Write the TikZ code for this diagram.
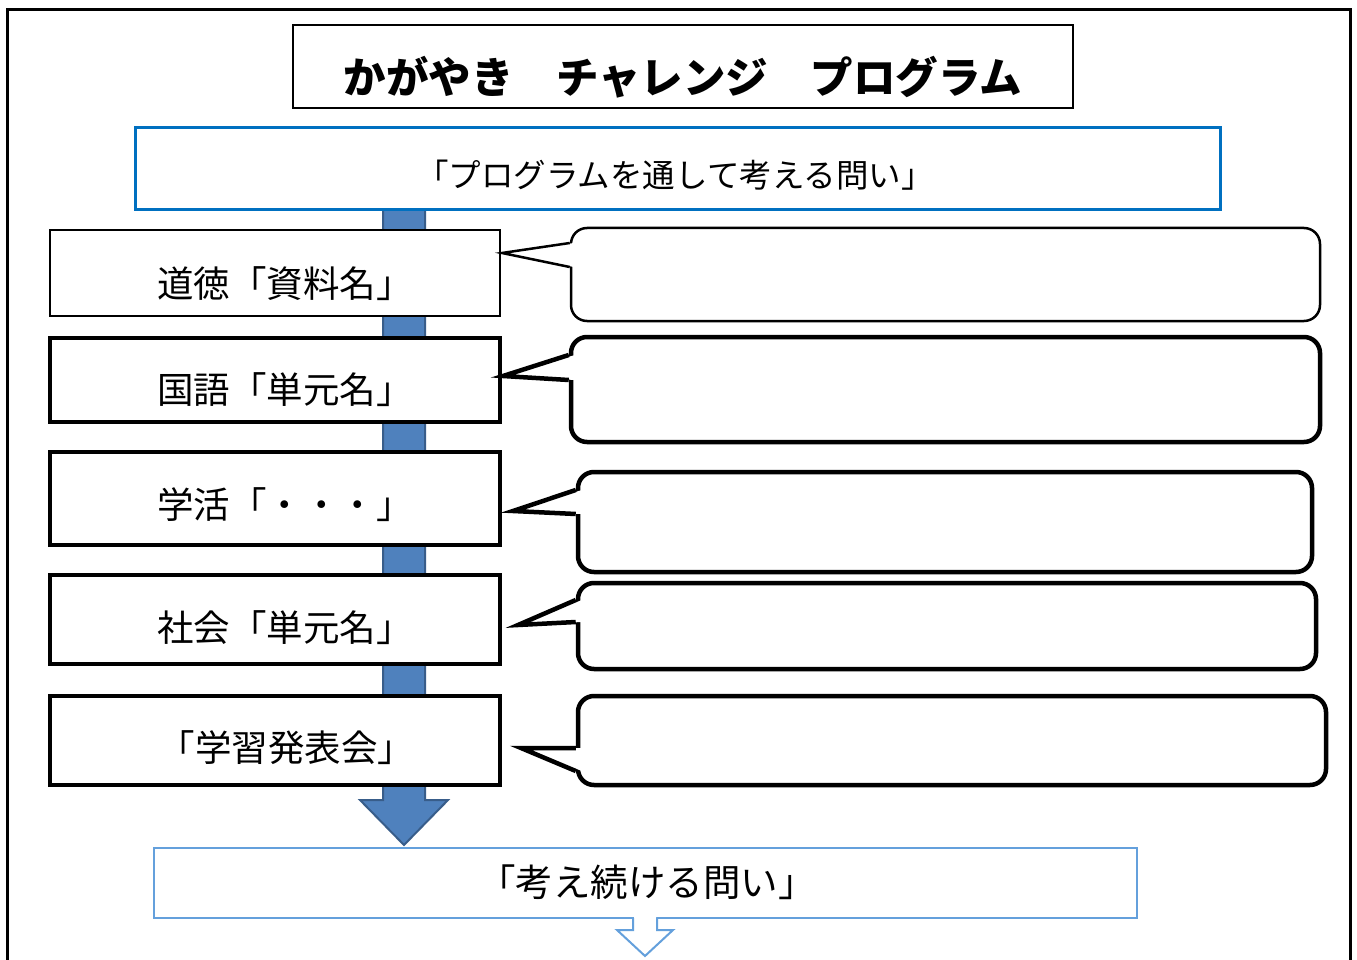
\documentclass[tikz,border=0pt]{standalone}
\usepackage{fontspec}
\newfontfamily\jp{Noto Sans CJK JP}
\definecolor{topblue}{RGB}{0,112,192}
\definecolor{arrfill}{RGB}{79,129,189}
\definecolor{arrdraw}{RGB}{56,93,138}
\definecolor{lightblue}{RGB}{100,160,220}
\begin{document}
\begin{tikzpicture}[x=1pt,y=-1pt,
  lbox/.style={draw=black, fill=white, inner sep=0pt, line join=miter},
  callbox/.style={draw=black, fill=white, rounded corners=16pt, inner sep=0pt},
  jtext/.style={font=\jp\fontsize{36.5}{42}\selectfont, inner sep=0pt},
  tail/.style={draw=black, line join=miter}
]
\useasboundingbox (0,0) rectangle (1357,960);
\fill[white] (0,0) rectangle (1357,960);
% outer frame
\draw[line width=3pt] (7,962) -- (7,10) -- (1350,10) -- (1350,962);

% title
\node[draw=black, line width=2pt, minimum width=780pt, minimum height=83pt, inner sep=0pt] (title) at (683,66.5) {};
\node[font=\jp\bfseries\fontsize{42.5}{48}\selectfont, inner sep=0pt] (titletext) at (683,77) {かがやき　チャレンジ　プログラム};

% big blue arrow (behind boxes)
\draw[fill=arrfill, draw=arrdraw, line width=2pt, line join=miter]
  (383,205) -- (425,205) -- (425,800) -- (448,800) -- (404,845) -- (360,800) -- (383,800) -- cycle;

% top question box
\node[draw=topblue, fill=white, line width=3pt, minimum width=1085pt, minimum height=82pt, inner sep=0pt] (tq) at (677.5,169) {};
\node[font=\jp\fontsize{32.5}{38}\selectfont, inner sep=0pt] (tqtext) at (675,175) {「プログラムを通して考える問い」};

% left boxes
\node[lbox, line width=2pt, minimum width=450pt, minimum height=86pt] (b1) at (275,273) {};
\node[lbox, line width=4.5pt, minimum width=450pt, minimum height=84pt] (b2) at (275,380) {};
\node[lbox, line width=4.5pt, minimum width=450pt, minimum height=93pt] (b3) at (275,498.5) {};
\node[lbox, line width=4.5pt, minimum width=450pt, minimum height=89pt] (b4) at (275,619.5) {};
\node[lbox, line width=4.5pt, minimum width=450pt, minimum height=89pt] (b5) at (275,740.5) {};
\node[jtext] (t1) at (285,283.5) {道徳「資料名」};
\node[jtext] (t2) at (285,390) {国語「単元名」};
\node[jtext] (t3) at (285,505) {学活「・・・」};
\node[jtext] (t4) at (285,628) {社会「単元名」};
\node[jtext] (t5) at (286.5,748) {「学習発表会」};

% callouts
\node[callbox, line width=2.5pt, minimum width=749pt, minimum height=93pt] (c1) at (945.5,274.5) {};
\node[callbox, line width=4.5pt, minimum width=749pt, minimum height=105pt] (c2) at (945.5,389.5) {};
\node[callbox, line width=4.5pt, minimum width=734pt, minimum height=100pt] (c3) at (945,522) {};
\node[callbox, line width=4.5pt, minimum width=738pt, minimum height=86pt] (c4) at (947,626) {};
\node[callbox, line width=4.5pt, minimum width=748pt, minimum height=89pt] (c5) at (952,740.5) {};

\coordinate (p1) at (502,253);
\coordinate (p2) at (503,376);
\coordinate (p3) at (513,511);
\coordinate (p4) at (518,625);
\coordinate (p5) at (521,748);

\fill[white] (574,243) -- (p1) -- (574,267) -- cycle;
\draw[tail, line width=2.5pt] (c1.west |- 0,243) -- (p1) -- (c1.west |- 0,267);
\fill[white] (575,355) -- (p2) -- (575,380) -- cycle;
\draw[tail, line width=4.5pt] (c2.west |- 0,355) -- (p2) -- (c2.west |- 0,380);
\fill[white] (582,490) -- (p3) -- (582,514) -- cycle;
\draw[tail, line width=4.5pt] (c3.west |- 0,490) -- (p3) -- (c3.west |- 0,514);
\fill[white] (582,600) -- (p4) -- (582,622) -- cycle;
\draw[tail, line width=4.5pt] (c4.west |- 0,600) -- (p4) -- (c4.west |- 0,622);
\fill[white] (582,748) -- (p5) -- (582,771) -- cycle;
\draw[tail, line width=4.5pt] (c5.west |- 0,748) -- (p5) -- (c5.west |- 0,771);

% bottom box
\node[draw=lightblue, fill=white, line width=2pt, minimum width=983pt, minimum height=70pt, inner sep=0pt] (bq) at (645.5,883) {};
\node[font=\jp\fontsize{37.5}{44}\selectfont, inner sep=0pt] (bqtext) at (647,882) {「考え続ける問い」};

% hollow arrow below
\coordinate (ha) at (645,956);
\fill[white] (634,915) -- (634,930) -- (619,930) -- (ha) -- (671,930) -- (656,930) -- (656,915) -- cycle;
\draw[draw=lightblue, line width=2pt, line join=miter]
  (633,918) -- (633,930) -- (617,930) -- (ha) -- (673,930) -- (657,930) -- (657,918);
\end{tikzpicture}
\end{document}
